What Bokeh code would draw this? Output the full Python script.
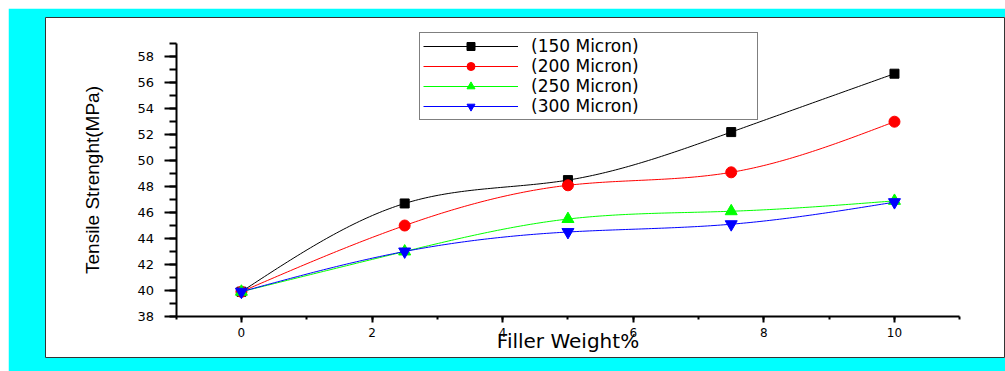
import numpy as np
from bokeh.plotting import figure
from bokeh.models import Range1d, SingleIntervalTicker, Legend, LegendItem
from bokeh.embed import file_html
from bokeh.resources import INLINE

# ---- data ----
weight = [0, 2.5, 5, 7.5, 10]
s150 = [39.9, 46.7, 48.5, 52.2, 56.7]
s200 = [39.9, 45.0, 48.1, 49.1, 53.0]
s250 = [39.9, 43.0, 45.5, 46.1, 46.9]
s300 = [39.9, 43.0, 44.5, 45.1, 46.8]
labels = ["(150 Micron)", "(200 Micron)", "(250 Micron)", "(300 Micron)"]


def natural_spline(xs, ys, n=200):
    """Smooth connecting path through the data points (natural cubic spline)."""
    x = np.asarray(xs, float)
    y = np.asarray(ys, float)
    m = len(x)
    h = np.diff(x)
    A = np.zeros((m, m))
    b = np.zeros(m)
    A[0, 0] = 1.0
    A[-1, -1] = 1.0
    for i in range(1, m - 1):
        A[i, i - 1] = h[i - 1]
        A[i, i] = 2 * (h[i - 1] + h[i])
        A[i, i + 1] = h[i]
        b[i] = 6 * ((y[i + 1] - y[i]) / h[i] - (y[i] - y[i - 1]) / h[i - 1])
    M = np.linalg.solve(A, b)
    xx = np.linspace(x[0], x[-1], n)
    idx = np.clip(np.searchsorted(x, xx) - 1, 0, m - 2)
    x0, x1 = x[idx], x[idx + 1]
    y0, y1 = y[idx], y[idx + 1]
    M0, M1 = M[idx], M[idx + 1]
    hh = x1 - x0
    yy = (M0 * (x1 - xx) ** 3 / (6 * hh) + M1 * (xx - x0) ** 3 / (6 * hh)
          + (y0 / hh - M0 * hh / 6) * (x1 - xx) + (y1 / hh - M1 * hh / 6) * (xx - x0))
    return xx, yy


p = figure(width=997, height=363, title=None,
           x_range=Range1d(-3.0, 11.70), y_range=Range1d(34.83, 61.03),
           output_backend="svg", toolbar_location=None,
           min_border_left=37, min_border_right=0, min_border_top=9, min_border_bottom=14,
           background_fill_color="white", border_fill_color="#00FFFF",
           outline_line_color="#333333", outline_line_width=1)
p.margin = (8, 0, 0, 8)
p.grid.visible = False

xa = p.xaxis[0]
ya = p.yaxis[0]
xa.fixed_location = 38
ya.fixed_location = -1
xa.bounds = (-1, 11)
ya.bounds = (38, 59)
xa.ticker = SingleIntervalTicker(interval=2, num_minor_ticks=2)
ya.ticker = SingleIntervalTicker(interval=2, num_minor_ticks=2)

for ax in (xa, ya):
    ax.axis_line_color = "black"
    ax.axis_line_width = 2
    ax.major_tick_line_color = "black"
    ax.minor_tick_line_color = "black"
    ax.major_tick_line_width = 2
    ax.minor_tick_line_width = 2
    ax.major_tick_in = 0
    ax.minor_tick_in = 0
    ax.major_label_text_font = "DejaVu Sans"
    ax.major_label_text_color = "black"
    ax.axis_label_text_color = "black"
    ax.axis_label_text_font_style = "normal"

ya.major_tick_out = 12
ya.minor_tick_out = 7
ya.major_label_text_font_size = "13px"
ya.major_label_standoff = 10
ya.axis_label = "Tensile Strenght(MPa)"
ya.axis_label_text_font = "Liberation Sans"
ya.axis_label_text_font_size = "19px"
ya.axis_label_standoff = 32

xa.major_tick_out = 6
xa.minor_tick_out = 3
xa.major_label_text_font_size = "12px"
xa.major_label_standoff = 6
xa.axis_label = "Filler Weight%"
xa.axis_label_text_font = "DejaVu Sans"
xa.axis_label_text_font_size = "20px"
xa.axis_label_standoff = -12

series = [s150, s200, s250, s300]
colors = ["black", "#FF0000", "#00FF00", "#0000FF"]
markers = ["square", "circle", "triangle", "inverted_triangle"]
sizes = [9, 11, 12, 12]

items = []
for lab, ys, c, mk, sz in zip(labels, series, colors, markers, sizes):
    sx, sy = natural_spline(weight, ys)
    lr = p.line(sx, sy, line_color=c, line_width=1)
    sr = p.scatter(weight, ys, marker=mk, size=sz, fill_color=c, line_color=c)
    items.append(LegendItem(label=lab, renderers=[lr, sr]))

legend = Legend(items=items, location=(374, 237),
                label_text_font="DejaVu Sans", label_text_font_size="17px",
                label_text_color="black",
                label_height=20, glyph_height=20, glyph_width=95,
                label_standoff=13, label_width=223,
                spacing=0, padding=3, margin=0,
                border_line_color="black", border_line_width=1,
                background_fill_color="white", background_fill_alpha=1.0)
p.add_layout(legend)

open("out.html", "w").write(file_html(p, INLINE))
